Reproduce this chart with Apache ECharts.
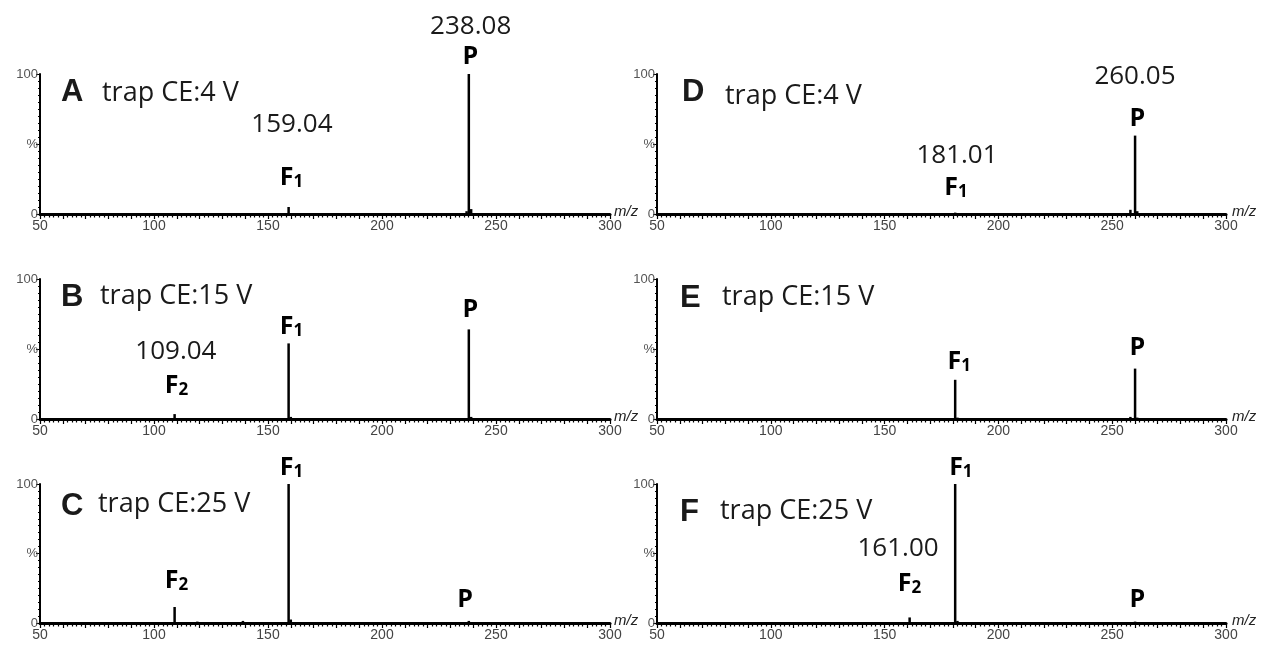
<!DOCTYPE html>
<html><head><meta charset="utf-8">
<script src="https://cdn.jsdelivr.net/npm/echarts/dist/echarts.min.js"></script>
<style>html,body{margin:0;padding:0;background:#fff}#c{width:1261px;height:645px}</style>
</head><body><div id="c"></div>
<script>
// ---- data ----
const panelLetters = ['A', 'B', 'C', 'D', 'E', 'F'];
const panelTitles = ['trap CE:4 V', 'trap CE:15 V', 'trap CE:25 V', 'trap CE:4 V', 'trap CE:15 V', 'trap CE:25 V'];
const xTickLabels = [50, 100, 150, 200, 250, 300];
const yTickLabels = { 0: '0', 50: '%', 100: '100' };
const xName = 'm/z';

// peak m/z and relative intensity (%)
const mzA = [159.04, 237.1, 238.08, 239.1];
const intA = [5, 2, 100, 3.5];
const mzB = [109.04, 159.04, 160.0, 238.08, 239.1];
const intB = [3.5, 54, 1.5, 64, 1.5];
const mzC = [109.04, 119.0, 139.0, 159.04, 160.0, 238.08];
const intC = [11.5, 1, 1.5, 100, 2.5, 1.5];
const mzD = [181.01, 258.0, 260.05, 261.0];
const intD = [1, 3, 56, 2];
const mzE = [181.01, 182.0, 258.0, 260.05, 261.0];
const intE = [28, 1, 1.5, 36, 1];
const mzF = [161.00, 181.01, 182.0, 260.05];
const intF = [4, 100, 1.5, 1];

// peak annotations: text, anchor m/z, anchor height (%)
const annTextA = ['159.04', 'F1', '238.08', 'P'];
const annMzA = [160.5, 160.3, 238.9, 238.8];
const annYA = [64, 25.7, 134, 112];
const annTextB = ['109.04', 'F2', 'F1', 'P'];
const annMzB = [109.6, 109.9, 160.3, 238.8];
const annYB = [48, 23.6, 65.7, 78];
const annTextC = ['F2', 'F1', 'P'];
const annMzC = [109.9, 160.3, 236.5];
const annYC = [30.2, 111.5, 16.5];
const annTextD = ['181.01', 'F1', '260.05', 'P'];
const annMzD = [181.8, 181.4, 260.0, 261.0];
const annYD = [41.4, 18.6, 97.9, 67.9];
const annTextE = ['F1', 'P'];
const annMzE = [182.8, 261.0];
const annYE = [40.7, 50.7];
const annTextF = ['161.00', 'F2', 'F1', 'P'];
const annMzF = [155.9, 160.9, 183.5, 261.0];
const annYF = [53.2, 28, 111.5, 16.5];

// ---- build ----
const peaks = [[mzA, intA], [mzB, intB], [mzC, intC], [mzD, intD], [mzE, intE], [mzF, intF]];
const anns = [[annTextA, annMzA, annYA], [annTextB, annMzB, annYB], [annTextC, annMzC, annYC],
              [annTextD, annMzD, annYD], [annTextE, annMzE, annYE], [annTextF, annMzF, annYF]];

const gridLeft = [40, 40, 40, 657, 657, 657];
const gridWidth = [570, 570, 570, 569, 569, 569];
const gridTop = [74, 279, 484, 74, 279, 484];
const gridHeight = [140, 140, 139, 140, 140, 139];
const letterLeft = [61, 61, 61, 682, 680, 680];
const textLeft = [102, 100, 98, 725, 722, 720];
const letterCY = [92, 297, 506, 92, 298, 512];
const textCY = [93, 296, 504, 96, 297, 511];
const nameLeft = [614, 614, 614, 1232, 1232, 1232];

const grids = [], xAxes = [], yAxes = [], series = [], titles = [];
for (let i = 0; i < 6; i++) {
  grids.push({ left: gridLeft[i], top: gridTop[i], width: gridWidth[i], height: gridHeight[i], containLabel: false });
  xAxes.push({
    gridIndex: i, type: 'value', min: xTickLabels[0], max: xTickLabels[xTickLabels.length - 1], interval: 10,
    axisLine: { show: true, onZero: false, lineStyle: { color: '#000', width: 3 } },
    axisTick: { show: true, length: 5, lineStyle: { color: '#000', width: 1.2 } },
    minorTick: { show: true, splitNumber: 5, length: 3.5, lineStyle: { color: '#000', width: 1.2 } },
    splitLine: { show: false },
    axisLabel: { margin: 5, fontSize: 14, color: '#444', fontFamily: 'Liberation Sans',
      formatter: v => (xTickLabels.indexOf(v) >= 0 ? String(v) : '') }
  });
  yAxes.push({
    gridIndex: i, type: 'value', min: 0, max: 100, interval: 50,
    axisLine: { show: true, lineStyle: { color: '#000', width: 2 } },
    axisTick: { show: true, length: 4, lineStyle: { color: '#000', width: 1 } },
    minorTick: { show: true, splitNumber: 10, length: 2, lineStyle: { color: '#000', width: 1 } },
    splitLine: { show: false },
    axisLabel: { margin: 2, fontSize: 13, color: '#555', fontFamily: 'Liberation Sans',
      formatter: v => (yTickLabels[v] !== undefined ? yTickLabels[v] : '') }
  });
  series.push({
    type: 'bar', xAxisIndex: i, yAxisIndex: i, barWidth: 2.5, silent: true,
    itemStyle: { color: '#000' },
    data: peaks[i][0].map((m, j) => [m, peaks[i][1][j]])
  });
  const [txt, amz, ay] = anns[i];
  series.push({
    type: 'scatter', xAxisIndex: i, yAxisIndex: i, symbolSize: 0, clip: false, silent: true,
    itemStyle: { opacity: 1 },
    data: txt.map((t, j) => ({ value: [amz[j], ay[j]], name: t })),
    label: {
      show: true, position: 'inside', opacity: 1,
      formatter: p => {
        const t = p.name;
        if (/^[FP]/.test(t)) return t.length > 1 ? '{b|' + t[0] + '}{s|' + t.slice(1) + '}' : '{p|' + t + '}';
        return '{n|' + t + '}';
      },
      rich: {
        n: { fontSize: 26, fontFamily: 'Open Sans', color: '#1a1a1a', lineHeight: 30 },
        p: { fontSize: 25, fontFamily: 'Open Sans', fontWeight: 'bold', color: '#000', lineHeight: 28 },
        b: { fontSize: 25, fontFamily: 'Open Sans', fontWeight: 'bold', color: '#000', lineHeight: 26, verticalAlign: 'top' },
        s: { fontSize: 17, fontFamily: 'Open Sans', fontWeight: 'bold', color: '#000', lineHeight: 17, verticalAlign: 'bottom', padding: [16, 0, 0, 0] }
      }
    }
  });
  titles.push({ text: panelLetters[i], left: letterLeft[i], top: letterCY[i] - 18, padding: 0,
    textStyle: { fontSize: 31, fontWeight: 'bold', fontFamily: 'Liberation Sans', color: '#1a1a1a', lineHeight: 36 } });
  titles.push({ text: panelTitles[i], left: textLeft[i], top: textCY[i] - 18, padding: 0,
    textStyle: { fontSize: 27, fontWeight: 'normal', fontFamily: 'Open Sans', color: '#1a1a1a', lineHeight: 36 } });
  titles.push({ text: xName, left: nameLeft[i], top: gridTop[i] + gridHeight[i] - 10, padding: 0,
    textStyle: { fontSize: 15, fontStyle: 'italic', fontWeight: 'normal', fontFamily: 'Liberation Sans', color: '#222', lineHeight: 16 } });
}

const chart = echarts.init(document.getElementById('c'), null, { renderer: 'canvas' });
chart.setOption({ animation: false, backgroundColor: '#fff', title: titles, grid: grids, xAxis: xAxes, yAxis: yAxes, series: series });
</script></body></html>
